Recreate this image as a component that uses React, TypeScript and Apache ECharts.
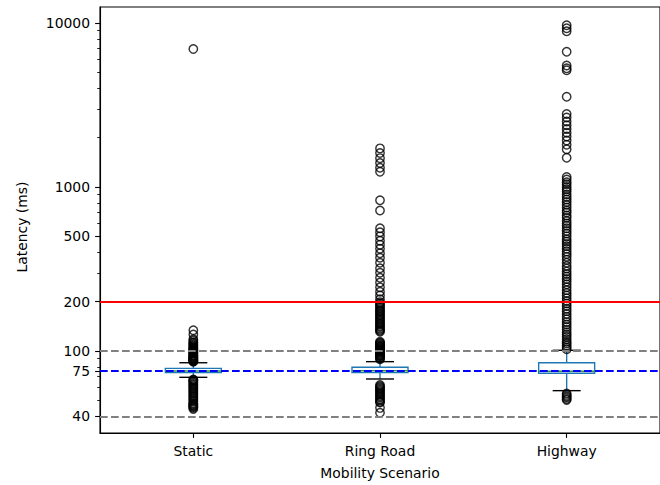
import React, { useEffect, useRef } from "react";
import * as echarts from "echarts";

const categories = ["Static", "Ring Road", "Highway"];

// box statistics (ms)
const whiskerLow = [69.1, 67.5, 57.3];
const q1 = [73.8, 73.8, 73.1];
const median = [75.5, 75.8, 75.3];
const q3 = [78.4, 79.6, 84.8];
const whiskerHigh = [84.8, 86.1, 101];

// outliers (ms)
const staticOutliers = [
  6940, 134, 126, 118, 116, 113, 112, 110, 108.5, 107, 105.5, 104, 103, 102, 101, 100, 99, 98, 97.5,
  96.5, 95, 94, 93.5, 92.5, 92, 91, 90.5, 90, 89, 88.5, 88, 87.5, 87, 86.5, 86,
  67, 66.5, 66, 65, 64, 63, 62, 61, 60, 59, 58, 57, 56, 55, 54, 53, 52, 51, 50, 49, 48, 47.5, 47,
  46.5, 46, 45.5, 45, 44.3,
];
const ringRoadOutliers = [
  1720, 1610, 1500, 1400, 1310, 1240, 830, 720,
  560, 530, 500, 470, 445, 420, 395, 370, 345, 320, 300, 280, 262, 245, 230, 218, 207, 198, 194,
  190, 186, 182, 178, 175, 172, 168, 165, 162, 159, 156, 153, 150, 147, 145, 142, 140, 137, 135,
  133, 131,
  114, 112.5, 111, 109.5, 108, 107, 106, 105, 104, 103, 102, 101, 100, 99, 98, 97, 96, 95, 94,
  93.5, 92.5, 91, 90, 89,
  62, 61, 60, 59, 58, 57, 56, 55, 54, 53, 52, 51, 50, 49, 48.5, 45, 42,
];
const highwayOutliers = [
  9700, 9300, 8900, 6680, 5500, 5300, 5150, 3550,
  2790, 2650, 2510, 2380, 2260, 2140, 2030, 1920, 1810, 1700, 1510,
  1150, 1110, 1070, 1040, 1000, 970, 940, 900, 870, 840, 810, 780, 750, 720, 700, 670, 650, 620,
  600, 580, 560, 540, 520, 500, 480, 465, 450, 435, 420, 405, 390, 375, 360, 345, 330, 318, 305,
  295, 285, 275, 265, 255, 245, 235, 226, 218, 210, 202, 195, 188, 181, 175, 168, 162, 156, 150,
  145, 140, 135, 130, 126, 122, 118, 114, 111, 108, 105, 102.5,
  55, 54, 53, 52, 51, 50.3,
];

const yTicks = [40, 75, 100, 200, 500, 1000, 10000];
const yMinorTicks = [
  50, 60, 70, 80, 90, 300, 400, 600, 700, 800, 900, 2000, 3000, 4000, 5000, 6000, 7000, 8000, 9000,
];
const yRange = [31.62, 12521];

const refRed = 200;
const refGray = [100, 40];
const refBlue = 75;

const lg = (v: number) => Math.log10(v);
const FONT = "DejaVu Sans";
const FS = 13.9;
const C0 = "#1f77b4";
const C2 = "#2ca02c";

export default function App() {
  const ref = useRef<HTMLDivElement>(null);

  useEffect(() => {
    if (!ref.current) return;
    const chart = echarts.init(ref.current, undefined, { renderer: "svg" });

    const boxData = categories.map((_, i) => [
      i,
      lg(whiskerLow[i]),
      lg(q1[i]),
      lg(median[i]),
      lg(q3[i]),
      lg(whiskerHigh[i]),
    ]);

    const outlierData: number[][] = [];
    [staticOutliers, ringRoadOutliers, highwayOutliers].forEach((arr, i) => {
      arr.forEach((v) => outlierData.push([i, lg(v)]));
    });

    const dash = [7.7, 3.3];

    const option: any = {
      animation: false,
      backgroundColor: "#ffffff",
      textStyle: { fontFamily: FONT },
      grid: {
        left: 100,
        top: 7,
        right: -12,
        bottom: 52,
        show: true,
        borderColor: "#000",
        borderWidth: 1.1,
        backgroundColor: "transparent",
      },
      xAxis: {
        type: "category",
        data: categories,
        boundaryGap: true,
        name: "Mobility Scenario",
        nameLocation: "middle",
        nameGap: 33,
        nameTextStyle: { color: "#000", fontSize: FS, fontFamily: FONT },
        axisLine: { show: true, lineStyle: { color: "#000", width: 1.1 } },
        axisTick: { show: true, alignWithLabel: true, length: 4.9, lineStyle: { color: "#000", width: 1.1 } },
        axisLabel: { color: "#000", fontSize: FS, fontFamily: FONT, margin: 11 },
        splitLine: { show: false },
      },
      yAxis: [
        {
          type: "value",
          min: lg(yRange[0]),
          max: lg(yRange[1]),
          position: "left",
          name: "Latency (ms)",
          nameLocation: "middle",
          nameGap: 71,
          nameRotate: 90,
          nameTextStyle: { color: "#000", fontSize: FS, fontFamily: FONT, padding: [0, 14, 0, 0] },
          axisLine: { show: true, lineStyle: { color: "#000", width: 1.1 } },
          axisTick: {
            show: true,
            length: 4.9,
            lineStyle: { color: "#000", width: 1.1 },
            customValues: yTicks.map(lg),
          },
          axisLabel: {
            color: "#000",
            fontSize: FS,
            fontFamily: FONT,
            margin: 10,
            customValues: yTicks.map(lg),
            formatter: (v: number) => String(Math.round(Math.pow(10, v))),
          },
          splitLine: { show: false },
        },
        {
          type: "value",
          min: lg(yRange[0]),
          max: lg(yRange[1]),
          position: "left",
          offset: 0,
          axisLine: { show: false },
          axisLabel: { show: false },
          axisTick: {
            show: true,
            length: 2.8,
            lineStyle: { color: "#000", width: 0.85 },
            customValues: yMinorTicks.map(lg),
          },
          splitLine: { show: false },
        },
      ],
      series: [
        {
          type: "custom",
          z: 2,
          data: boxData,
          encode: { x: 0, y: [1, 2, 3, 4, 5] },
          renderItem: (params: any, api: any) => {
            const i = api.value(0);
            const pLo = api.coord([i, api.value(1)]);
            const pQ1 = api.coord([i, api.value(2)]);
            const pMed = api.coord([i, api.value(3)]);
            const pQ3 = api.coord([i, api.value(4)]);
            const pHi = api.coord([i, api.value(5)]);
            const band = api.size([1, 0])[0];
            const hb = band * 0.15;
            const hc = band * 0.075;
            const x = pLo[0];
            const lw = 1.39;
            return {
              type: "group",
              children: [
                { type: "line", shape: { x1: x, y1: pQ1[1], x2: x, y2: pLo[1] }, style: { stroke: C0, lineWidth: lw } },
                { type: "line", shape: { x1: x, y1: pQ3[1], x2: x, y2: pHi[1] }, style: { stroke: C0, lineWidth: lw } },
                { type: "line", shape: { x1: x - hc, y1: pLo[1], x2: x + hc, y2: pLo[1] }, style: { stroke: "#000", lineWidth: lw } },
                { type: "line", shape: { x1: x - hc, y1: pHi[1], x2: x + hc, y2: pHi[1] }, style: { stroke: "#000", lineWidth: lw } },
                {
                  type: "rect",
                  shape: { x: x - hb, y: pQ3[1], width: 2 * hb, height: pQ1[1] - pQ3[1] },
                  style: { fill: "none", stroke: C0, lineWidth: lw },
                },
                { type: "line", shape: { x1: x - hb, y1: pMed[1], x2: x + hb, y2: pMed[1] }, style: { stroke: C2, lineWidth: lw } },
              ],
            };
          },
        },
        {
          type: "scatter",
          z: 3,
          data: outlierData,
          symbol: "circle",
          symbolSize: 8.4,
          itemStyle: { color: "rgba(0,0,0,0)", borderColor: "#000", borderWidth: 1.45 },
        },
        {
          type: "line",
          z: 5,
          data: [],
          markLine: {
            silent: true,
            symbol: ["none", "none"],
            label: { show: false },
            data: [
              { yAxis: lg(refRed), lineStyle: { color: "#ff0000", type: "solid", width: 1.8 } },
              ...refGray.map((v) => ({ yAxis: lg(v), lineStyle: { color: "#808080", type: dash, width: 1.8 } })),
              { yAxis: lg(refBlue), lineStyle: { color: "#0000ff", type: dash, width: 1.8 } },
            ],
          },
        },
      ],
    };

    chart.setOption(option);
    return () => chart.dispose();
  }, []);

  return (
    <div
      ref={ref}
      style={{ position: "fixed", left: 0, top: 0, width: 660, height: 485, background: "#fff" }}
    />
  );
}
